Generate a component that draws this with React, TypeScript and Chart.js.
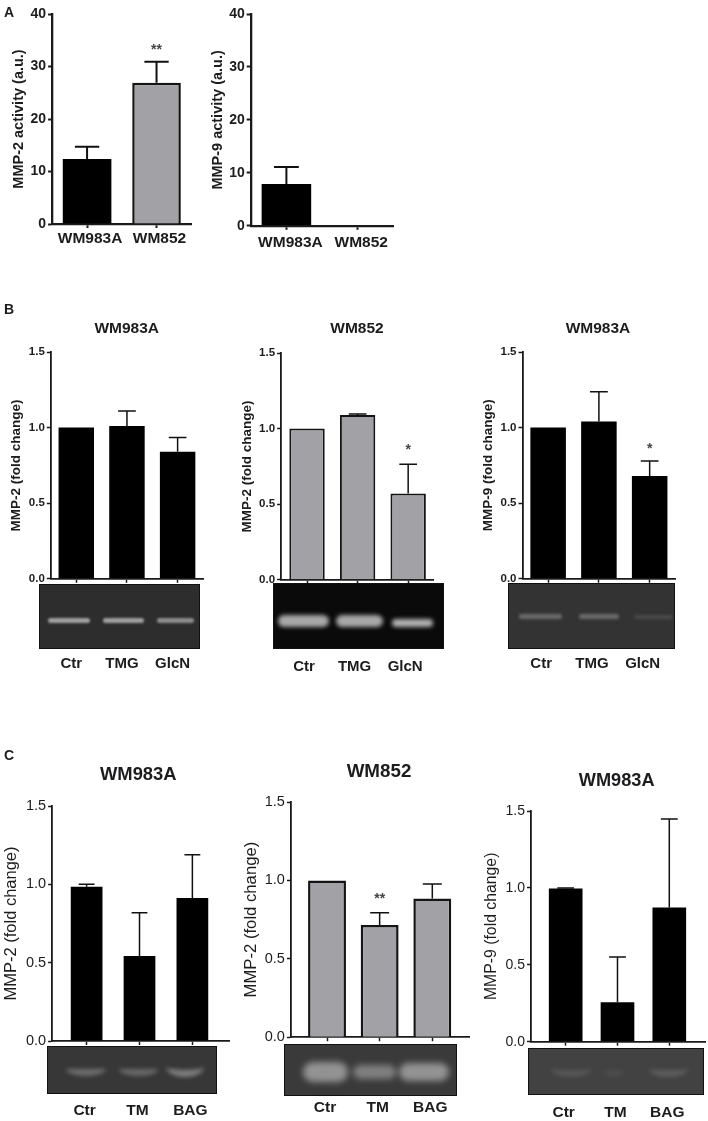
import React, { useEffect, useRef } from "react";
import { Chart, registerables } from "chart.js";

Chart.register(...registerables);

// ---------- data ----------
const cellLines = ["WM983A", "WM852"];
const glcLabels = ["Ctr", "TMG", "GlcN"];
const tmLabels = ["Ctr", "TM", "BAG"];

const a1Values = [12.4, 26.9];
const a1ErrTop = [14.7, 30.9];
const a1Stars = [null, "**"];
const a1StarAt = [null, 33.2];

const a2Values = [7.9, 0];
const a2ErrTop = [11.1, null];

const b1Values = [1.0, 1.01, 0.84];
const b1ErrTop = [null, 1.11, 0.935];

const b2Values = [1.0, 1.09, 0.57];
const b2ErrTop = [null, 1.097, 0.765];
const b2Stars = [null, null, "*"];
const b2StarAt = [null, null, 0.855];

const b3Values = [1.0, 1.04, 0.68];
const b3ErrTop = [null, 1.237, 0.778];
const b3Stars = [null, null, "*"];
const b3StarAt = [null, null, 0.855];

const c1Values = [0.985, 0.543, 0.913];
const c1ErrTop = [1.0, 0.819, 1.189];

const c2Values = [1.0, 0.716, 0.884];
const c2ErrTop = [null, 0.793, 0.977];
const c2Stars = [null, "**", null];
const c2StarAt = [null, 0.88, null];

const c3Values = [0.996, 0.256, 0.873];
const c3ErrTop = [1.0, 0.551, 1.448];

const activityTicksMax = 40;
const activityStep = 10;
const foldTicksMax = 1.5;
const foldStep = 0.5;

// ---------- layout ----------
const BLACK = "#000000";
const GREY = "#a1a1a6";
const INK = "#1c1c1e";
const FONT = "'Liberation Sans', Arial, sans-serif";

type Panel = {
  cats: string[]; values: number[]; err: (number | null)[];
  stars?: (string | null)[]; starAt?: (number | null)[];
  yTitle: string; yMax: number; yStep: number; decimals: number;
  fill: string | string[]; border: number | number[]; barPct: number; lw: number;
  x0: number; x1: number; top: number; zero: number; c0: number; dc: number;
  titleX: number; titleSize: number; titleBold: boolean;
  tickSize: number; tickBold: boolean; labelSize: number; labelY: number; labelOffset: number;
};

const panels: Panel[] = [
  { cats: cellLines, values: a1Values, err: a1ErrTop, stars: a1Stars, starAt: a1StarAt, yTitle: "MMP-2 activity (a.u.)", yMax: activityTicksMax, yStep: activityStep, decimals: 0, fill: [BLACK, GREY], border: [0, 2.5], barPct: 0.7, lw: 2, x0: 51.7, x1: 190.7, top: 14.3, zero: 224, c0: 86.7, dc: 69.5, titleX: 18.3, titleSize: 14.5, titleBold: true, tickSize: 14, tickBold: true, labelSize: 15.5, labelY: 238.5, labelOffset: 3 },
  { cats: cellLines, values: a2Values, err: a2ErrTop, yTitle: "MMP-9 activity (a.u.)", yMax: activityTicksMax, yStep: activityStep, decimals: 0, fill: BLACK, border: 0, barPct: 0.7, lw: 2, x0: 250.7, x1: 393, top: 14.3, zero: 226.3, c0: 286.4, dc: 70.8, titleX: 217.7, titleSize: 14.5, titleBold: true, tickSize: 14, tickBold: true, labelSize: 15.5, labelY: 243, labelOffset: 4 },
  { cats: glcLabels, values: b1Values, err: b1ErrTop, yTitle: "MMP-2 (fold change)", yMax: foldTicksMax, yStep: foldStep, decimals: 1, fill: BLACK, border: 0, barPct: 0.7, lw: 1.5, x0: 50.7, x1: 203, top: 351.7, zero: 578.3, c0: 76.2, dc: 50.7, titleX: 16, titleSize: 13.5, titleBold: true, tickSize: 11.5, tickBold: true, labelSize: 15, labelY: 663.5, labelOffset: -5 },
  { cats: glcLabels, values: b2Values, err: b2ErrTop, stars: b2Stars, starAt: b2StarAt, yTitle: "MMP-2 (fold change)", yMax: foldTicksMax, yStep: foldStep, decimals: 1, fill: GREY, border: 2, barPct: 0.7, lw: 1.5, x0: 281, x1: 433.3, top: 352.7, zero: 579.3, c0: 307, dc: 50.7, titleX: 247, titleSize: 13.5, titleBold: true, tickSize: 11.5, tickBold: true, labelSize: 15, labelY: 666.5, labelOffset: -3 },
  { cats: glcLabels, values: b3Values, err: b3ErrTop, stars: b3Stars, starAt: b3StarAt, yTitle: "MMP-9 (fold change)", yMax: foldTicksMax, yStep: foldStep, decimals: 1, fill: BLACK, border: 0, barPct: 0.7, lw: 1.5, x0: 522.7, x1: 675, top: 352.3, zero: 578.7, c0: 548.3, dc: 50.7, titleX: 488.3, titleSize: 13.5, titleBold: true, tickSize: 11.5, tickBold: true, labelSize: 15, labelY: 664, labelOffset: -7 },
  { cats: tmLabels, values: c1Values, err: c1ErrTop, yTitle: "MMP-2 (fold change)", yMax: foldTicksMax, yStep: foldStep, decimals: 1, fill: BLACK, border: 0, barPct: 0.6, lw: 1.5, x0: 51.7, x1: 229, top: 806, zero: 1041, c0: 86.3, dc: 53, titleX: 11.5, titleSize: 16.5, titleBold: false, tickSize: 14.5, tickBold: false, labelSize: 15.5, labelY: 1110.5, labelOffset: -2 },
  { cats: tmLabels, values: c2Values, err: c2ErrTop, stars: c2Stars, starAt: c2StarAt, yTitle: "MMP-2 (fold change)", yMax: foldTicksMax, yStep: foldStep, decimals: 1, fill: GREY, border: 2.5, barPct: 0.72, lw: 1.5, x0: 290.7, x1: 468.3, top: 802.3, zero: 1037.7, c0: 326.7, dc: 52.5, titleX: 250.8, titleSize: 16.7, titleBold: false, tickSize: 14.5, tickBold: false, labelSize: 15.5, labelY: 1108, labelOffset: -2 },
  { cats: tmLabels, values: c3Values, err: c3ErrTop, yTitle: "MMP-9 (fold change)", yMax: foldTicksMax, yStep: foldStep, decimals: 1, fill: BLACK, border: 0, barPct: 0.65, lw: 1.5, x0: 531, x1: 705, top: 811.3, zero: 1041.7, c0: 565.7, dc: 51.8, titleX: 491.5, titleSize: 15.8, titleBold: false, tickSize: 14, tickBold: false, labelSize: 15.5, labelY: 1112.5, labelOffset: -2 },
];

const headings = [
  { text: "A", x: 9, y: 12, size: 14 },
  { text: "B", x: 9, y: 309, size: 14 },
  { text: "C", x: 9, y: 754.5, size: 14 },
  { text: "WM983A", x: 126.7, y: 327.5, size: 15.5 },
  { text: "WM852", x: 357, y: 328, size: 15.5 },
  { text: "WM983A", x: 598, y: 327.5, size: 15.5 },
  { text: "WM983A", x: 138.3, y: 773.5, size: 18.4 },
  { text: "WM852", x: 379, y: 771, size: 18.8 },
  { text: "WM983A", x: 616.7, y: 779.5, size: 18.2 },
];

type Band = [number, number, number, number, number, boolean?];
const gels: { x: number; y: number; x2: number; y2: number; bg: string; blur: number; bands: Band[] }[] = [
  { x: 38.7, y: 584, x2: 200, y2: 649.3, bg: "#2d2d2d", blur: 1.2, bands: [[47, 617, 42, 5, 0.6], [102, 617, 41, 5, 0.6], [156, 617, 37, 5, 0.5]] },
  { x: 273.3, y: 583.3, x2: 444, y2: 649.3, bg: "#0a0a0a", blur: 2, bands: [[277, 614, 51, 12, 0.7], [335, 614, 47, 12, 0.7], [391, 618, 41, 8, 0.75]] },
  { x: 508.3, y: 583.3, x2: 675, y2: 649.3, bg: "#333333", blur: 1.5, bands: [[518, 613, 43, 5, 0.3], [578, 613, 40, 5, 0.3], [633, 614, 39, 4, 0.12]] },
  { x: 47, y: 1045.7, x2: 216.7, y2: 1094, bg: "#373737", blur: 2, bands: [[65, 1060, 40, 15, 0.3, true], [118, 1062, 39, 13, 0.28, true], [165, 1056, 38, 20, 0.4, true]] },
  { x: 284.3, y: 1044, x2: 456.7, y2: 1095.7, bg: "#3a3a3a", blur: 3, bands: [[302, 1061, 45, 20, 0.5], [352, 1064, 43, 14, 0.4], [398, 1062, 50, 18, 0.5]] },
  { x: 528.3, y: 1047.7, x2: 704.3, y2: 1095.3, bg: "#424242", blur: 2, bands: [[550, 1060, 40, 16, 0.12, true], [602, 1064, 21, 12, 0.06, true], [648, 1060, 39, 16, 0.16, true]] },
];

// ---------- error bars + significance marks ----------
const annotations = {
  id: "annotations",
  afterDatasetsDraw(chart: any, _a: any, opts: any) {
    const { ctx } = chart;
    const y = chart.scales.y;
    const bars = chart.getDatasetMeta(0).data;
    ctx.save();
    ctx.strokeStyle = "#111";
    ctx.lineWidth = opts.lw;
    (opts.err as (number | null)[]).forEach((e, i) => {
      if (e == null) return;
      const bar = bars[i];
      const py = y.getPixelForValue(e);
      const half = bar.width / 4;
      ctx.beginPath();
      ctx.moveTo(bar.x, bar.y);
      ctx.lineTo(bar.x, py);
      ctx.moveTo(bar.x - half, py);
      ctx.lineTo(bar.x + half, py);
      ctx.stroke();
    });
    ctx.fillStyle = "#444";
    ctx.font = `bold 14px ${FONT}`;
    ctx.textAlign = "center";
    ctx.textBaseline = "middle";
    (opts.stars || []).forEach((s: string | null, i: number) => {
      if (s) ctx.fillText(s, bars[i].x, y.getPixelForValue(opts.starAt[i]));
    });
    ctx.restore();
  },
};

function PanelChart({ p }: { p: Panel }) {
  const ref = useRef<HTMLCanvasElement>(null);
  const tickLen = 4;
  const left = Math.max(0, p.titleX - p.titleSize * 0.6);
  const padTop = 10;
  const canvasTop = p.top - padTop;
  const padRight = 3;
  const width = p.x1 - left + padRight;
  const bottom = p.labelY + p.labelSize;
  const height = bottom - canvasTop;

  useEffect(() => {
    const axisColor = "#1a1a1a";
    const chart = new Chart(ref.current as HTMLCanvasElement, {
      type: "bar",
      data: {
        datasets: [{
          data: p.values.map((v, i) => ({ x: i, y: v })),
          backgroundColor: p.fill,
          borderColor: "#141414",
          borderWidth: p.border,
          barPercentage: p.barPct,
          categoryPercentage: 1,
        }],
      },
      options: {
        responsive: false,
        animation: false,
        layout: { padding: { top: padTop, right: padRight, left: 0, bottom: 0 } },
        plugins: {
          legend: { display: false },
          tooltip: { enabled: false },
          annotations: { err: p.err, stars: p.stars, starAt: p.starAt, lw: p.lw },
        } as any,
        scales: {
          x: {
            type: "linear",
            offset: false,
            min: (p.x0 - p.c0) / p.dc,
            max: (p.x1 - p.c0) / p.dc,
            afterBuildTicks: (s: any) => { s.ticks = p.cats.map((_, i) => ({ value: i })); },
            afterFit: (s: any) => { s.height = bottom - p.zero; s.paddingLeft = 0; s.paddingRight = 0; },
            grid: { display: true, offset: false, drawOnChartArea: false, drawTicks: true, tickLength: tickLen, tickColor: axisColor, tickWidth: p.lw },
            border: { display: true, color: axisColor, width: p.lw + 0.3 },
            ticks: {
              autoSkip: false, maxRotation: 0, minRotation: 0,
              callback: (v: any) => p.cats[v],
              color: INK,
              labelOffset: p.labelOffset,
              padding: p.labelY - p.zero - tickLen - p.labelSize * 0.6,
              font: { family: FONT, size: p.labelSize, weight: "bold" },
            },
          },
          y: {
            min: 0, max: p.yMax,
            afterFit: (s: any) => { s.width = p.x0 - left; s.paddingTop = 0; s.paddingBottom = 0; },
            grid: { display: true, drawOnChartArea: false, drawTicks: true, tickLength: tickLen, tickColor: axisColor, tickWidth: p.lw },
            border: { display: true, color: axisColor, width: p.lw + 0.3 },
            title: {
              display: true, text: p.yTitle, color: INK, padding: 0,
              font: { family: FONT, size: p.titleSize, weight: p.titleBold ? "bold" : "normal" },
            },
            ticks: {
              stepSize: p.yStep, color: INK, padding: 2,
              callback: (v: any) => Number(v).toFixed(p.decimals),
              font: { family: FONT, size: p.tickSize, weight: p.tickBold ? "bold" : "normal" },
            },
          },
        },
      },
      plugins: [annotations],
    } as any);
    return () => chart.destroy();
  }, []);

  return (
    <canvas
      ref={ref}
      width={Math.round(width)}
      height={Math.round(height)}
      style={{ position: "absolute", left, top: canvasTop, display: "block", filter: "blur(0.4px)" }}
    />
  );
}

function Gel({ g }: { g: (typeof gels)[number] }) {
  return (
    <div style={{ position: "absolute", left: g.x, top: g.y, width: g.x2 - g.x, height: g.y2 - g.y, background: g.bg, boxSizing: "border-box", border: "1.5px solid #111", overflow: "hidden" }}>
      {g.bands.map(([x, y, w, h, o, arc], i) => (
        <div key={i} style={arc
          ? { position: "absolute", left: x - g.x, top: y - g.y, width: w, height: h, boxSizing: "border-box", borderRadius: "50%", borderBottom: `7px solid rgba(235,235,235,${o})`, filter: `blur(${g.blur}px)` }
          : { position: "absolute", left: x - g.x, top: y - g.y, width: w, height: h, borderRadius: h / 2, background: `rgba(235,235,235,${o})`, filter: `blur(${g.blur}px)` }} />
      ))}
    </div>
  );
}

export default function App() {
  return (
    <div style={{ position: "absolute", left: 0, top: 0, width: 708, height: 1121, background: "#fff", overflow: "hidden" }}>
      {panels.map((p, i) => <PanelChart key={i} p={p} />)}
      {gels.map((g, i) => <Gel key={i} g={g} />)}
      {headings.map((h, i) => (
        <div key={i} style={{ position: "absolute", left: h.x, top: h.y, transform: "translate(-50%,-50%)", font: `bold ${h.size}px ${FONT}`, color: INK, whiteSpace: "nowrap", filter: "blur(0.3px)" }}>{h.text}</div>
      ))}
    </div>
  );
}
